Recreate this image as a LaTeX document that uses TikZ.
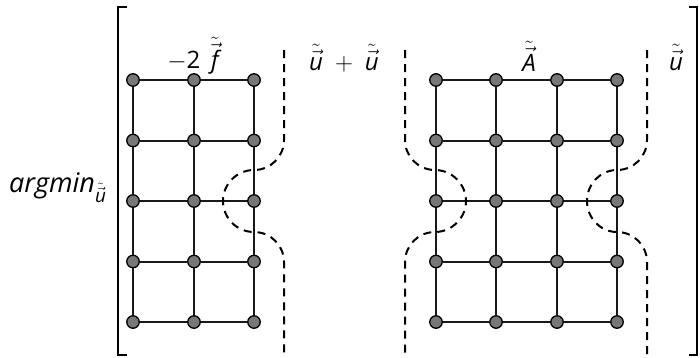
\documentclass[tikz,border=0pt]{standalone}
\usepackage{amsmath}
\usepackage{fontspec}
\setmainfont{Open Sans}
\newcommand\tv[1]{\ensuremath{\tilde{\vec{\text{\itshape #1}}}}}
\definecolor{dotgray}{HTML}{777777}
\begin{document}
\begin{tikzpicture}[x=1pt,y=-1pt,
  dot/.style={circle,draw=black,fill=dotgray,line width=1.3pt,inner sep=0pt,minimum size=12.5pt},
  edge/.style={line width=2pt,draw=black!90},
  bracket/.style={line width=2pt},
  cut/.style={line width=2pt,dash pattern=on 8pt off 6pt},
  lbl/.style={inner sep=0pt,font=\fontsize{24}{28}\selectfont}]
\useasboundingbox (0,0) rectangle (700,357);
% left grid
\foreach \i/\x in {1/133,2/194,3/254}
  \foreach \j/\y in {1/80,2/140.5,3/201,4/261.5,5/322}
    \node[dot] (L\i\j) at (\x,\y) {};
\foreach \j in {1,...,5} \draw[edge] (L1\j) -- (L2\j) -- (L3\j);
\foreach \i in {1,2,3} \draw[edge] (L\i1) -- (L\i2) -- (L\i3) -- (L\i4) -- (L\i5);
% right grid
\foreach \i/\x in {1/436,2/496,3/557,4/617}
  \foreach \j/\y in {1/80,2/140.5,3/201,4/261.5,5/322}
    \node[dot] (R\i\j) at (\x,\y) {};
\foreach \j in {1,...,5} \draw[edge] (R1\j) -- (R2\j) -- (R3\j) -- (R4\j);
\foreach \i in {1,2,3,4} \draw[edge] (R\i1) -- (R\i2) -- (R\i3) -- (R\i4) -- (R\i5);
% brackets
\draw[bracket] (127,7) -- (118,7) -- (118,355) -- (127,355);
\draw[bracket] (689,7) -- (697,7) -- (697,355) -- (689,355);
% dashed cuts
\draw[cut] (284,50) -- (284,140) .. controls (284,156.6) and (270.6,170) .. (254,170)
  .. controls (236.9,170) and (223,183.9) .. (223,201)
  .. controls (223,218.1) and (236.9,232) .. (254,232)
  .. controls (270.6,232) and (284,245.4) .. (284,262) -- (284,357);
\draw[cut] (405,50) -- (405,140) .. controls (405,156.6) and (418.4,170) .. (435,170)
  .. controls (451.6,170) and (466,183.9) .. (466,201)
  .. controls (466,218.1) and (451.6,232) .. (435,232)
  .. controls (418.4,232) and (405,245.4) .. (405,262) -- (405,357);
\draw[cut] (647,50) -- (647,140) .. controls (647,156.6) and (633.6,170) .. (617,170)
  .. controls (600.4,170) and (587,183.9) .. (587,201)
  .. controls (587,218.1) and (600.4,232) .. (617,232)
  .. controls (633.6,232) and (647,245.4) .. (647,262) -- (647,357);
% labels
\node[lbl,anchor=base] (tf) at (193,68) {$-$2\hspace{0.45em}\tv{f}};
\node[lbl,anchor=base] (tuu) at (344,70) {\tv{u}\hspace{0.5em}$+$\hspace{0.5em}\tv{u}};
\node[lbl,anchor=base] (tA) at (529,71) {\tv{A}};
\node[lbl,anchor=base] (tu) at (676,70) {\tv{u}};
\node[lbl,anchor=base west,font=\fontsize{27}{31}\selectfont] (am) at (9,192) {\itshape argmin$_{\tv{u}}$};
\end{tikzpicture}
\end{document}
